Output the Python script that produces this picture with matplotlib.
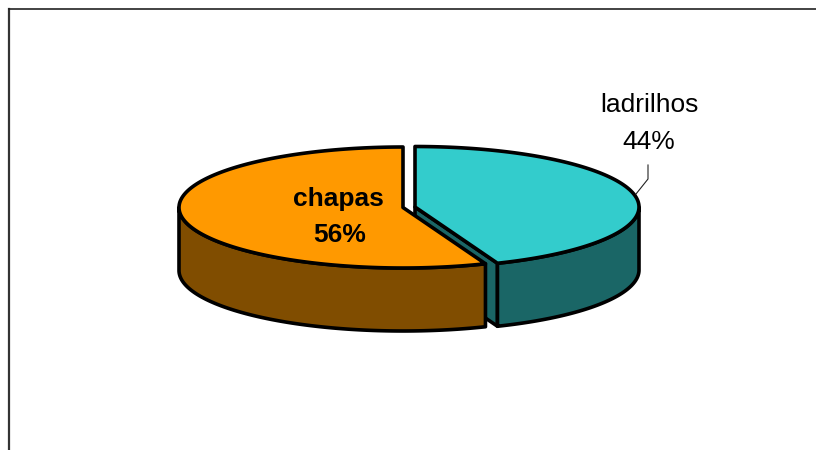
import numpy as np
import matplotlib
matplotlib.use("Agg")
import matplotlib.pyplot as plt
from matplotlib.patches import Polygon

categories = ["ladrilhos", "chapas"]
values = [44, 56]
percent_labels = ["44%", "56%"]
top_colors = ["#33CCCC", "#FF9900"]
side_colors = ["#1A6666", "#804D00"]

plt.rcParams["font.family"] = ["Liberation Sans", "DejaVu Sans"]
W, H = 816, 450
fig = plt.figure(figsize=(W / 100, H / 100), dpi=100)
ax = fig.add_axes([0, 0, 1, 1])
ax.set_xlim(0, W)
ax.set_ylim(H, 0)
ax.axis("off")

# chart frame
ax.plot([9, 9], [H + 2, 9], color="#333333", lw=1.6, solid_capstyle="projecting")
ax.plot([9, W + 2], [9, 9], color="#222222", lw=1.2, solid_capstyle="projecting")

RX, RY, DEPTH = 224.0, 60.5, 63.0
LW = 2.6
centers = [(415.0, 207.0), (403.0, 207.5)]
split = 90 - values[0] / sum(values) * 360   # boundary angle, clockwise from the top


def pt(c, a):
    r = np.radians(a)
    return np.array([c[0] + RX * np.cos(r), c[1] - RY * np.sin(r)])


def arc(c, a0, a1, dy=0.0):
    t = np.radians(np.linspace(a0, a1, 160))
    return np.column_stack([c[0] + RX * np.cos(t), c[1] - RY * np.sin(t) + dy])


def poly(points, color):
    ax.add_patch(Polygon(points, closed=True, facecolor=color, edgecolor="black",
                         lw=LW, joinstyle="round"))


# first slice: clockwise from 12 o'clock to the split
c = np.array(centers[0])
tip = pt(c, split)
poly([c, tip, tip + [0, DEPTH], c + [0, DEPTH]], side_colors[0])
poly(np.vstack([arc(c, split, 0), arc(c, 0, split, DEPTH)]), side_colors[0])
poly(np.vstack([[c], arc(c, 90, split)]), top_colors[0])

# second slice: from the split on round to 12 o'clock
c = np.array(centers[1])
poly(np.vstack([arc(c, 180, 360 + split), arc(c, 360 + split, 180, DEPTH)]), side_colors[1])
poly(np.vstack([[c], arc(c, split, -270)]), top_colors[1])

# labels
ax.text(649, 105, categories[0], ha="center", va="center", fontsize=19, color="black")
ax.text(649, 142, percent_labels[0], ha="center", va="center", fontsize=19, color="black")
ax.text(338.5, 199, categories[1], ha="center", va="center", fontsize=19, color="black", fontweight="bold")
ax.text(339.5, 235, percent_labels[1], ha="center", va="center", fontsize=19, color="black", fontweight="bold")

# leader line of the ladrilhos label
ax.plot([648, 648, 636], [165, 179, 194], color="#222222", lw=0.8)

fig.savefig("out.png", dpi=100)
